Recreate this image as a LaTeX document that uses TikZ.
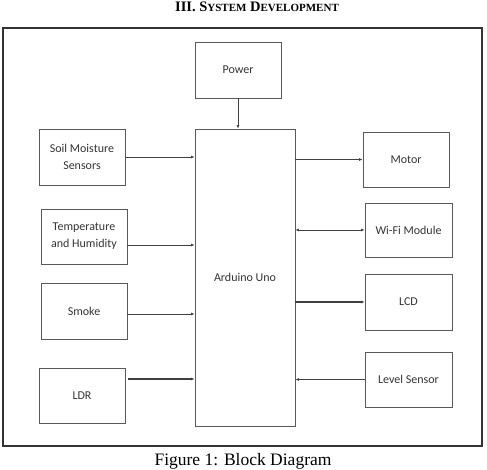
\documentclass[tikz,border=0pt]{standalone}
\usepackage{fontspec}
\setmainfont{Liberation Serif}
\newfontfamily\boxfont{Carlito}
\usetikzlibrary{arrows.meta,positioning,calc}

\begin{document}
\begin{tikzpicture}[
  x=1pt, y=-1pt,
  block/.style={draw=black!65, line width=0.9pt, minimum width=86pt, minimum height=56pt,
                inner sep=2pt, align=center, text=black!80,
                font=\boxfont\fontsize{12}{17}\selectfont},
  arrow/.style={-{Latex[length=3.5pt,width=3pt]}, line width=0.8pt, draw=black!75},
  biarrow/.style={{Latex[length=3.5pt,width=3pt]}-{Latex[length=3.5pt,width=3pt]}, line width=0.8pt, draw=black!75}
]
\useasboundingbox (0,0) rectangle (487,470);

% Title and caption
\node[font=\bfseries\fontsize{14.5}{14.5}\selectfont, anchor=base] (title) at (257,12)
{III. S{\fontsize{11}{11}\selectfont YSTEM} D{\fontsize{11}{11}\selectfont EVELOPMENT}};
\node[font=\fontsize{17.5}{17.5}\selectfont, anchor=base] (caption) at (243,465.5) {Figure 1: Block Diagram};

% Outer frame
\node[draw=black!80, line width=1.1pt, minimum width=479pt, minimum height=418pt, inner sep=0pt] (frame) at (242.5,237) {};

% Controller and power
\node[block] (power) at (238,70) {Power};
\node[block, minimum width=100pt, minimum height=297pt] (uno) at (245,277.5) {Arduino Uno};

% Inputs
\node[block] (soil) at (82,157) {Soil Moisture\\Sensors};
\node[block, minimum height=55pt] (temp) at (84,236.5) {Temperature\\and Humidity};
\node[block] (smoke) at (84,311) {Smoke};
\node[block, minimum height=55pt] (ldr) at (82,395.5) {LDR};

% Outputs
\node[block, minimum height=55pt] (motor) at (406,159.5) {Motor};
\node[block, minimum width=87pt, minimum height=54pt] (wifi) at (408.5,230) {Wi-Fi Module};
\node[block, minimum width=87pt] (lcd) at (408.5,302) {LCD};
\node[block, minimum width=87pt, minimum height=55pt] (level) at (408.5,379.5) {Level Sensor};

% Connection points
\coordinate (tempout) at ($(temp.east)+(0,8.5)$);
\coordinate (smokeout) at ($(smoke.east)+(0,3)$);
\coordinate (ldrout) at ($(ldr.east)+(3,-16.5)$);

% Links
\draw[arrow] (power.south) -- (power.south |- uno.north);
\draw[arrow] (soil.east) -- (soil.east -| uno.west);
\draw[arrow] (tempout) -- (tempout -| uno.west);
\draw[arrow] (smokeout) -- (smokeout -| uno.west);
\draw[arrow, line width=1.3pt] (ldrout) -- (ldrout -| uno.west);
\draw[arrow] (motor.west -| uno.east) -- (motor.west);
\draw[biarrow] (wifi.west -| uno.east) -- (wifi.west);
\draw[arrow, line width=1.1pt] (lcd.west -| uno.east) -- (lcd.west);
\draw[arrow, line width=1.1pt] (level.west) -- (level.west -| uno.east);

\end{tikzpicture}
\end{document}
